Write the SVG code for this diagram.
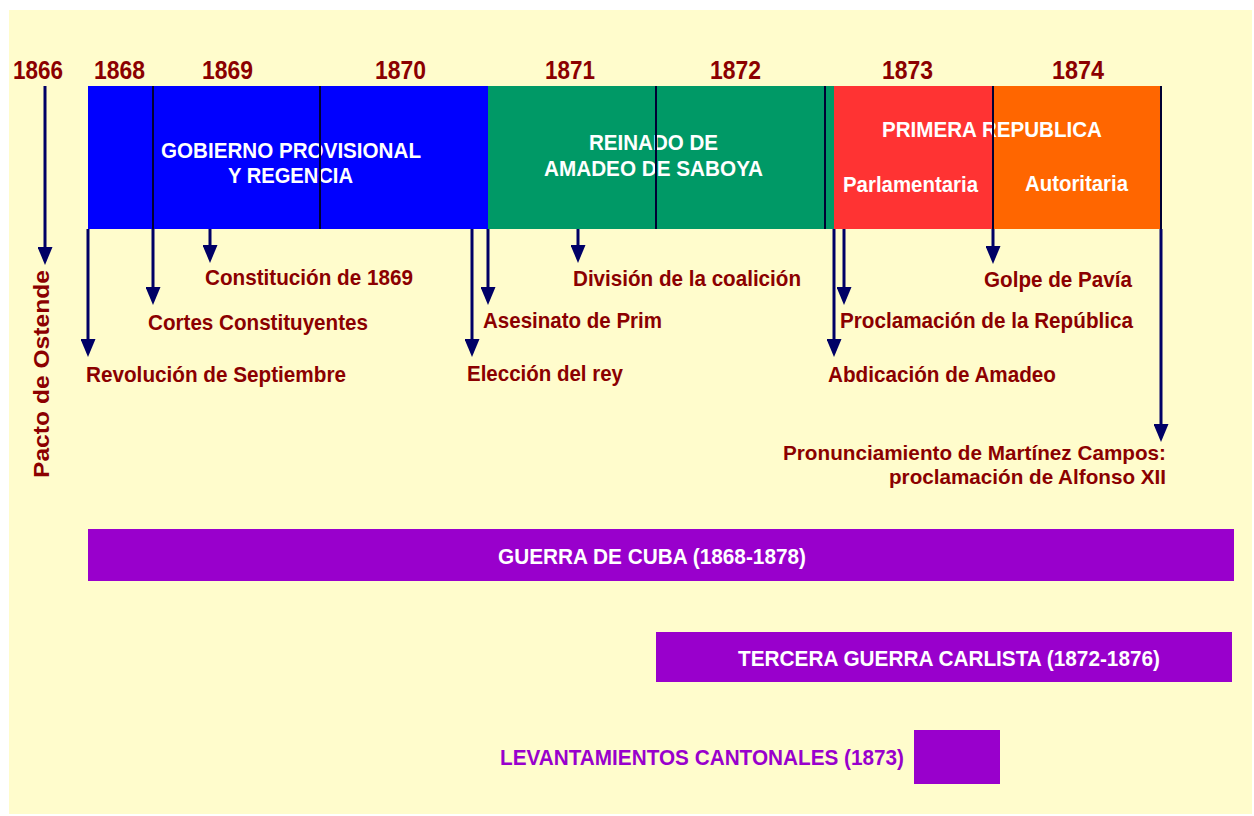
<svg xmlns="http://www.w3.org/2000/svg" width="1254" height="816" viewBox="0 0 1254 816">
<defs>
<style>
text{font-family:"Liberation Sans",Arial,sans-serif;font-weight:bold}
.yr{font-size:26px;fill:#8B0000}
.lbl{font-size:22px;fill:#8B0000}
.lbs{font-size:21px;fill:#8B0000}
.wt{font-size:22px;fill:#FFFFFF}
.pw{font-size:22px;fill:#9900CC}
.arr{stroke:#000066;stroke-width:3;fill:none;marker-end:url(#ah)}
.div{stroke:#000033;stroke-width:2}
</style>
<marker id="ah" markerUnits="userSpaceOnUse" markerWidth="18" markerHeight="15" refX="8" refY="7.5" orient="auto"><path d="M0,0 L18,7.5 L0,15 z" fill="#000066"/></marker>
</defs>
<rect x="0" y="0" width="1254" height="816" fill="#FFFFFF"/>
<rect x="9" y="10" width="1243" height="804" fill="#FFFCCC"/>
<g id="years">
<text class="yr" x="13" y="79" textLength="50" lengthAdjust="spacingAndGlyphs">1866</text>
<text class="yr" x="94" y="79" textLength="51" lengthAdjust="spacingAndGlyphs">1868</text>
<text class="yr" x="202" y="79" textLength="51" lengthAdjust="spacingAndGlyphs">1869</text>
<text class="yr" x="375" y="79" textLength="51" lengthAdjust="spacingAndGlyphs">1870</text>
<text class="yr" x="545" y="79" textLength="50" lengthAdjust="spacingAndGlyphs">1871</text>
<text class="yr" x="710" y="79" textLength="51" lengthAdjust="spacingAndGlyphs">1872</text>
<text class="yr" x="882" y="79" textLength="51" lengthAdjust="spacingAndGlyphs">1873</text>
<text class="yr" x="1052" y="79" textLength="52" lengthAdjust="spacingAndGlyphs">1874</text>
</g>
<g id="gobierno">
<rect x="88" y="86" width="400" height="143" fill="#0000FF"/>
<text class="wt" x="161" y="158" textLength="260" lengthAdjust="spacingAndGlyphs">GOBIERNO PROVISIONAL</text>
<text class="wt" x="228" y="183" textLength="125" lengthAdjust="spacingAndGlyphs">Y REGENCIA</text>
</g>
<g id="reinado">
<rect x="488" y="86" width="346" height="143" fill="#009966"/>
<text class="wt" x="589" y="150" textLength="129" lengthAdjust="spacingAndGlyphs">REINADO DE</text>
<text class="wt" x="544" y="176" textLength="219" lengthAdjust="spacingAndGlyphs">AMADEO DE SABOYA</text>
</g>
<g id="republica">
<rect x="834" y="86" width="159" height="143" fill="#FF3333"/>
<rect x="993" y="86" width="168" height="143" fill="#FF6600"/>
<text class="wt" x="882" y="137" textLength="220" lengthAdjust="spacingAndGlyphs">PRIMERA REPUBLICA</text>
<text class="wt" x="843" y="192" textLength="135" lengthAdjust="spacingAndGlyphs">Parlamentaria</text>
<text class="wt" x="1025" y="191" textLength="103" lengthAdjust="spacingAndGlyphs">Autoritaria</text>
</g>
<g id="dividers">
<line class="div" x1="153" y1="86" x2="153" y2="229"/>
<line class="div" x1="320" y1="86" x2="320" y2="229"/>
<line class="div" x1="656" y1="86" x2="656" y2="229"/>
<line class="div" x1="825" y1="86" x2="825" y2="229"/>
<line class="div" x1="993" y1="86" x2="993" y2="229"/>
<line class="div" x1="1161" y1="86" x2="1161" y2="229"/>
</g>
<g id="connectors">
<line class="arr" x1="45" y1="86" x2="45" y2="255"/>
<line class="arr" x1="88" y1="229" x2="88" y2="347"/>
<line class="arr" x1="153" y1="229" x2="153" y2="295"/>
<line class="arr" x1="210" y1="229" x2="210" y2="253"/>
<line class="arr" x1="472" y1="229" x2="472" y2="347"/>
<line class="arr" x1="488" y1="229" x2="488" y2="295"/>
<line class="arr" x1="578" y1="229" x2="578" y2="253"/>
<line class="arr" x1="834" y1="229" x2="834" y2="347"/>
<line class="arr" x1="844" y1="229" x2="844" y2="295"/>
<line class="arr" x1="993" y1="229" x2="993" y2="254"/>
<line class="arr" x1="1161" y1="229" x2="1161" y2="432"/>
</g>
<g id="events">
<text class="lbl" transform="translate(49,478) rotate(-90)" textLength="208" lengthAdjust="spacingAndGlyphs">Pacto de Ostende</text>
<text class="lbl" x="86" y="382" textLength="260" lengthAdjust="spacingAndGlyphs">Revolución de Septiembre</text>
<text class="lbl" x="148" y="330" textLength="220" lengthAdjust="spacingAndGlyphs">Cortes Constituyentes</text>
<text class="lbl" x="205" y="285" textLength="208" lengthAdjust="spacingAndGlyphs">Constitución de 1869</text>
<text class="lbl" x="467" y="381" textLength="156" lengthAdjust="spacingAndGlyphs">Elección del rey</text>
<text class="lbl" x="483" y="328" textLength="179" lengthAdjust="spacingAndGlyphs">Asesinato de Prim</text>
<text class="lbl" x="573" y="286" textLength="228" lengthAdjust="spacingAndGlyphs">División de la coalición</text>
<text class="lbl" x="828" y="382" textLength="228" lengthAdjust="spacingAndGlyphs">Abdicación de Amadeo</text>
<text class="lbl" x="840" y="328" textLength="293" lengthAdjust="spacingAndGlyphs">Proclamación de la República</text>
<text class="lbl" x="984" y="287" textLength="148" lengthAdjust="spacingAndGlyphs">Golpe de Pavía</text>
<text class="lbs" x="783" y="460" textLength="383" lengthAdjust="spacingAndGlyphs">Pronunciamiento de Martínez Campos:</text>
<text class="lbs" x="889" y="484" textLength="277" lengthAdjust="spacingAndGlyphs">proclamación de Alfonso XII</text>
</g>
<g id="cuba">
<rect x="88" y="529" width="1146" height="52" fill="#9900CC"/>
<text class="wt" x="498" y="564" textLength="308" lengthAdjust="spacingAndGlyphs">GUERRA DE CUBA (1868-1878)</text>
</g>
<g id="carlista">
<rect x="656" y="632" width="576" height="50" fill="#9900CC"/>
<text class="wt" x="738" y="666" textLength="422" lengthAdjust="spacingAndGlyphs">TERCERA GUERRA CARLISTA (1872-1876)</text>
</g>
<g id="cantonales">
<rect x="914" y="730" width="86" height="54" fill="#9900CC"/>
<text class="pw" x="500" y="765" textLength="404" lengthAdjust="spacingAndGlyphs">LEVANTAMIENTOS CANTONALES (1873)</text>
</g>
</svg>
